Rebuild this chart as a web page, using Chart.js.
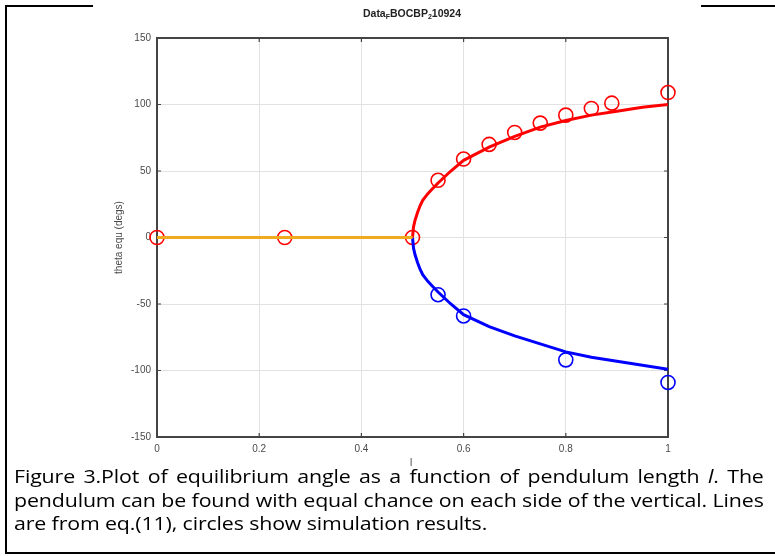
<!DOCTYPE html>
<html><head><meta charset="utf-8">
<script src="https://cdn.jsdelivr.net/npm/chart.js@4/dist/chart.umd.min.js"></script>
<style>
html,body{margin:0;padding:0;background:#fff;}
#wrap{position:relative;width:775px;height:556px;overflow:hidden;background:#fff;}
#cv{position:absolute;left:0;top:0;}
.ln{position:absolute;background:#000;}
#title{position:absolute;left:312px;width:200px;top:7px;text-align:center;font:bold 10.5px "Liberation Sans",Arial,sans-serif;color:#222;}
#title sub{font-size:7px;vertical-align:-2px;}
#xl{position:absolute;left:410px;top:457px;font:10px "Liberation Sans",Arial,sans-serif;color:#444;}
#cap{position:absolute;left:14px;width:667px;top:465px;font:19px "Open Sans","Liberation Sans",sans-serif;color:#000;line-height:23.5px;transform:scaleX(1.124);transform-origin:0 0;letter-spacing:-0.12px;}
#cap div{white-space:nowrap;text-align:justify;text-align-last:justify;}
#cap div.last{text-align-last:left;}
</style></head>
<body><div id="wrap">
<canvas id="cv" width="775" height="462"></canvas>
<div id="title">Data<sub>F</sub>BOCBP<sub>2</sub>10924</div>
<div id="xl">l</div>
<div class="ln" style="left:5px;top:5px;width:88px;height:2px"></div>
<div class="ln" style="left:701px;top:5px;width:74px;height:2px"></div>
<div class="ln" style="left:5px;top:5px;width:2px;height:549px"></div>
<div class="ln" style="left:5px;top:552px;width:770px;height:2px"></div>
<div id="cap">
<div>Figure 3.Plot of equilibrium angle as a function of pendulum length <i>l</i>. The</div>
<div>pendulum can be found with equal chance on each side of the vertical. Lines</div>
<div class="last">are from eq.(11), circles show simulation results.</div>
</div>
</div>
<script>
// Data
const lengthFlat = [0, 0.5];
const thetaFlat = [0, 0];
const lengthCurve = [0.5,0.502,0.505,0.51,0.515,0.52,0.53,0.54,0.55,0.575,0.6,0.65,0.7,0.75,0.8,0.85,0.9,0.95,1.0];
const thetaUpper = [0,8,13,19,24,28,33,37,41,50,58,68,76,83,88,92,95,98,100];
const thetaLower = [0,-8,-13,-19,-24,-28,-33,-37,-41,-50,-58,-67,-74,-80,-86,-90,-93,-96,-99];
const simLengthRed = [0, 0.25, 0.5, 0.55, 0.6, 0.65, 0.7, 0.75, 0.8, 0.85, 0.89, 1.0];
const simThetaRed = [0, 0, 0, 43, 59, 70, 79, 86, 92, 97, 101, 109];
const simLengthBlue = [0.55, 0.6, 0.8, 1.0];
const simThetaBlue = [-43, -59, -92, -109];
const xTicks = [0, 0.2, 0.4, 0.6, 0.8, 1];
const yTicks = [-150, -100, -50, 0, 50, 100, 150];

const pts = (xs, ys) => xs.map((x, i) => ({x, y: ys[i]}));

const boxPlugin = {
  id: 'box',
  beforeDatasetsDraw(chart) {
    const {ctx, chartArea: a, scales} = chart;
    ctx.save();
    ctx.strokeStyle = '#444';
    ctx.lineWidth = 2;
    ctx.strokeRect(a.left, a.top, a.right - a.left, a.bottom - a.top);
    ctx.lineWidth = 1.2;
    const tl = 4;
    xTicks.forEach(v => {
      const px = scales.x.getPixelForValue(v);
      ctx.beginPath();
      ctx.moveTo(px, a.bottom); ctx.lineTo(px, a.bottom - tl);
      ctx.moveTo(px, a.top); ctx.lineTo(px, a.top + tl);
      ctx.stroke();
    });
    yTicks.forEach(v => {
      const py = scales.y.getPixelForValue(v);
      ctx.beginPath();
      ctx.moveTo(a.left, py); ctx.lineTo(a.left + tl, py);
      ctx.moveTo(a.right, py); ctx.lineTo(a.right - tl, py);
      ctx.stroke();
    });
    ctx.restore();
  }
};

new Chart(document.getElementById('cv'), {
  type: 'scatter',
  data: {
    datasets: [
      {data: pts(lengthFlat, thetaFlat), showLine: true, borderColor: '#f0aa1e', borderWidth: 3, pointRadius: 0},
      {data: pts(lengthCurve, thetaUpper), showLine: true, borderColor: '#ff0000', borderWidth: 3, pointRadius: 0, tension: 0},
      {data: pts(lengthCurve, thetaLower), showLine: true, borderColor: '#0000ff', borderWidth: 3, pointRadius: 0, tension: 0},
      {data: pts(simLengthRed, simThetaRed), showLine: false, pointStyle: 'circle', pointRadius: 7, pointBorderWidth: 1.6,
        borderColor: '#ff0000', pointBorderColor: '#ff0000', pointBackgroundColor: 'rgba(0,0,0,0)', clip: false},
      {data: pts(simLengthBlue, simThetaBlue), showLine: false, pointStyle: 'circle', pointRadius: 7, pointBorderWidth: 1.6,
        borderColor: '#0000ff', pointBorderColor: '#0000ff', pointBackgroundColor: 'rgba(0,0,0,0)', clip: false}
    ]
  },
  options: {
    responsive: false,
    animation: false,
    events: [],
    layout: {padding: {left: 100, right: 107, top: 38, bottom: 0}},
    plugins: {legend: {display: false}, tooltip: {enabled: false}, title: {display: false}},
    scales: {
      x: {
        type: 'linear', min: 0, max: 1,
        afterBuildTicks: s => { s.ticks = xTicks.map(v => ({value: v})); },
        afterFit: s => { s.height = 25; },
        grid: {color: '#e2e2e2', lineWidth: 1, drawTicks: false},
        border: {display: false},
        ticks: {color: '#4a4a4a', font: {family: '"Liberation Sans", Arial', size: 10}, padding: 6, maxRotation: 0,
          callback: v => String(v)}
      },
      y: {
        type: 'linear', min: -150, max: 150,
        afterBuildTicks: s => { s.ticks = yTicks.map(v => ({value: v})); },
        afterFit: s => { s.width = 57; },
        grid: {color: '#e2e2e2', lineWidth: 1, drawTicks: false},
        border: {display: false},
        ticks: {color: '#4a4a4a', font: {family: '"Liberation Sans", Arial', size: 10}, padding: 6},
        title: {display: true, text: 'theta equ (degs)', color: '#4a4a4a', font: {family: '"Liberation Sans", Arial', size: 10}, padding: {top: 13, bottom: 0}}
      }
    }
  },
  plugins: [boxPlugin]
});
</script>
</body></html>
